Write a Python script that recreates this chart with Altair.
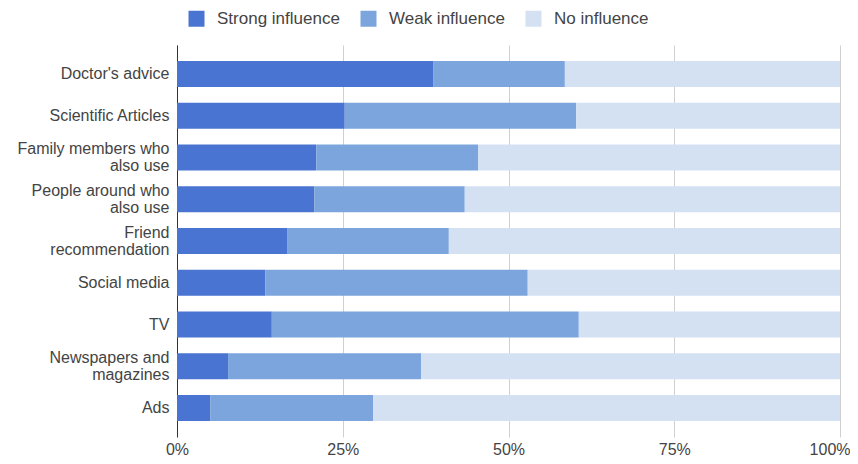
import altair as alt
import pandas as pd

categories = ["Doctor's advice", "Scientific Articles", "Family members who\nalso use",
              "People around who\nalso use", "Friend\nrecommendation", "Social media", "TV",
              "Newspapers and\nmagazines", "Ads"]
series = ["Strong influence", "Weak influence", "No influence"]
strong = [38.7, 25.3, 21.0, 20.7, 16.6, 13.3, 14.3, 7.7, 5.0]
weak = [19.8, 34.9, 24.4, 22.7, 24.4, 39.6, 46.3, 29.1, 24.6]
none_ = [41.5, 39.8, 54.6, 56.6, 59.0, 47.1, 39.4, 63.2, 70.4]
colors = ["#4a74d1", "#7ba5dc", "#d4e1f3"]

rows = []
for i, c in enumerate(categories):
    for j, (s, vals) in enumerate(zip(series, [strong, weak, none_])):
        rows.append({"cat": c, "series": s, "value": vals[i], "ord": j})
df = pd.DataFrame(rows)

font = "Liberation Sans"

chart = alt.Chart(df).mark_bar().encode(
    y=alt.Y("cat:N", sort=categories,
            scale=alt.Scale(paddingInner=0.377, paddingOuter=0.383),
            axis=alt.Axis(title=None, labelExpr="split(datum.label, '\\n')",
                          labelFontSize=16, labelColor="#444", labelFont=font,
                          ticks=False, labelPadding=8, domainColor="#333",
                          labelLineHeight=17,
                          labelOffset={"expr": "indexof(datum.value, '\\n') >= 0 ? -8.5 : 0"},
                          grid=False)),
    x=alt.X("value:Q", stack="normalize",
            scale=alt.Scale(domain=[0, 1], nice=False),
            axis=alt.Axis(title=None, format="%", values=[0, 0.25, 0.5, 0.75, 1],
                          labelFontSize=16, labelColor="#444", labelFont=font,
                          ticks=False, domain=False, gridColor="#d0d0d0",
                          labelPadding=4, labelFlush=False,
                          labelAlign={"expr": "datum.value == 1 ? 'right' : 'center'"},
                          labelOffset={"expr": "datum.value == 1 ? 10 : 0"})),
    color=alt.Color("series:N", sort=series,
                    scale=alt.Scale(domain=series, range=colors),
                    legend=alt.Legend(title=None, orient="none", direction="horizontal",
                                      legendX=11, legendY=-35, symbolType="square",
                                      symbolSize=256, symbolStrokeWidth=0,
                                      labelFontSize=17, labelColor="#444", labelFont=font,
                                      columnPadding=20, labelOffset=12)),
    order=alt.Order("ord:Q"),
).properties(
    width=663, height=392,
    autosize=alt.AutoSizeParams(type="none"),
    padding={"left": 169, "top": 37, "right": 10, "bottom": 19},
).configure_view(stroke=None).configure_axisY(domainWidth=1)

chart.save("out.html", embed_options={"renderer": "svg", "actions": False})
